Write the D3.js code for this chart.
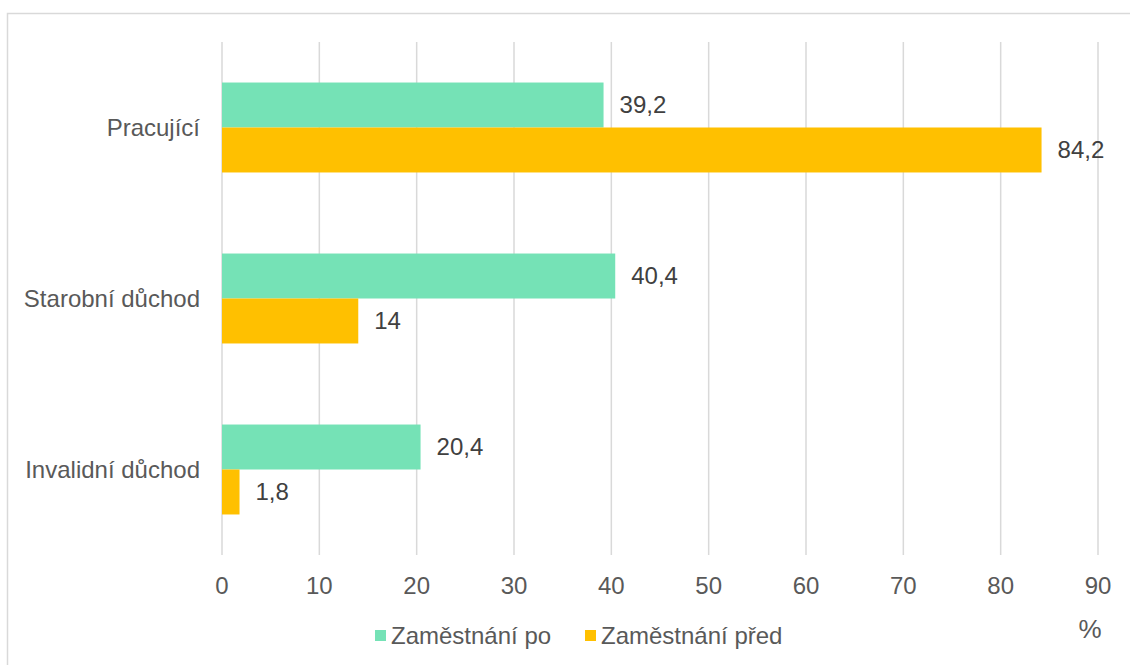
<!DOCTYPE html>
<html>
<head>
<meta charset="utf-8">
<script src="https://cdn.jsdelivr.net/npm/d3@7"></script>
<style>
  body { margin: 0; background: #fff; }
  text { font-family: "Liberation Sans", Arial, sans-serif; }
</style>
</head>
<body>
<svg id="chart" width="1130" height="665"></svg>
<script>
var categories = ["Pracující", "Starobní důchod", "Invalidní důchod"];
var seriesNames = ["Zaměstnání po", "Zaměstnání před"];
var valuesPo = [39.2, 40.4, 20.4];
var valuesPred = [84.2, 14, 1.8];
var xTicks = [0, 10, 20, 30, 40, 50, 60, 70, 80, 90];
var colors = ["#75e2b6", "#ffc000"];

var svg = d3.select("#chart");
var width = +svg.attr("width");
var height = +svg.attr("height");

// plot area
var plotLeft = 222, plotRight = 1098, plotTop = 42, plotBottom = 555;

// outer frame (runs off the canvas at right/bottom like the source)
svg.append("rect")
  .attr("x", 7.5).attr("y", 13.5)
  .attr("width", width).attr("height", height)
  .attr("fill", "none")
  .attr("stroke", "#d9d9d9")
  .attr("stroke-width", 1.5);

var xScale = d3.scaleLinear().domain([0, 90]).range([plotLeft, plotRight]);
var yScale = d3.scaleBand().domain(categories).range([plotTop, plotBottom]).paddingInner(0.474).paddingOuter(0.237);
var subScale = d3.scaleBand().domain([0, 1]).range([0, yScale.bandwidth()]);

// grid
svg.append("g").selectAll("line")
  .data(xTicks)
  .join("line")
  .attr("x1", function (d) { return xScale(d); })
  .attr("x2", function (d) { return xScale(d); })
  .attr("y1", plotTop).attr("y2", plotBottom)
  .attr("stroke", "#d9d9d9")
  .attr("stroke-width", 1.5);

// x tick labels
svg.append("g").selectAll("text")
  .data(xTicks)
  .join("text")
  .attr("x", function (d) { return xScale(d); })
  .attr("y", 594)
  .attr("text-anchor", "middle")
  .attr("font-size", 24)
  .attr("fill", "#595959")
  .text(function (d) { return d; });

// category labels
svg.append("g").selectAll("text")
  .data(categories)
  .join("text")
  .attr("x", 200)
  .attr("y", function (d) { return yScale(d) + yScale.bandwidth() / 2; })
  .attr("dy", "0.35em")
  .attr("text-anchor", "end")
  .attr("font-size", 24)
  .attr("fill", "#595959")
  .text(function (d) { return d; });

var series = [valuesPo, valuesPred];
var fmt = function (v) { return String(v).replace(".", ","); };

series.forEach(function (vals, s) {
  var g = svg.append("g");
  g.selectAll("rect")
    .data(vals)
    .join("rect")
    .attr("x", xScale(0))
    .attr("y", function (d, i) { return yScale(categories[i]) + subScale(s); })
    .attr("width", function (d) { return xScale(d) - xScale(0); })
    .attr("height", subScale.bandwidth())
    .attr("fill", colors[s]);

  g.selectAll("text")
    .data(vals)
    .join("text")
    .attr("x", function (d) { return xScale(d) + 16; })
    .attr("y", function (d, i) { return yScale(categories[i]) + subScale(s) + subScale.bandwidth() / 2; })
    .attr("dy", "0.35em")
    .attr("font-size", 24)
    .attr("fill", "#404040")
    .text(fmt);
});

// legend
var legendX = [375, 585];
var legend = svg.append("g").selectAll("g")
  .data(seriesNames)
  .join("g")
  .attr("transform", function (d, i) { return "translate(" + legendX[i] + ",630)"; });
legend.append("rect")
  .attr("width", 11).attr("height", 11)
  .attr("fill", function (d, i) { return colors[i]; });
legend.append("text")
  .attr("x", 16).attr("y", 14)
  .attr("font-size", 24)
  .attr("fill", "#595959")
  .text(function (d) { return d; });

// unit label
svg.append("text")
  .attr("x", 1090).attr("y", 638)
  .attr("text-anchor", "middle")
  .attr("font-family", "DejaVu Serif, serif")
  .attr("font-size", 26)
  .attr("fill", "#595959")
  .text("%");
</script>
</body>
</html>
